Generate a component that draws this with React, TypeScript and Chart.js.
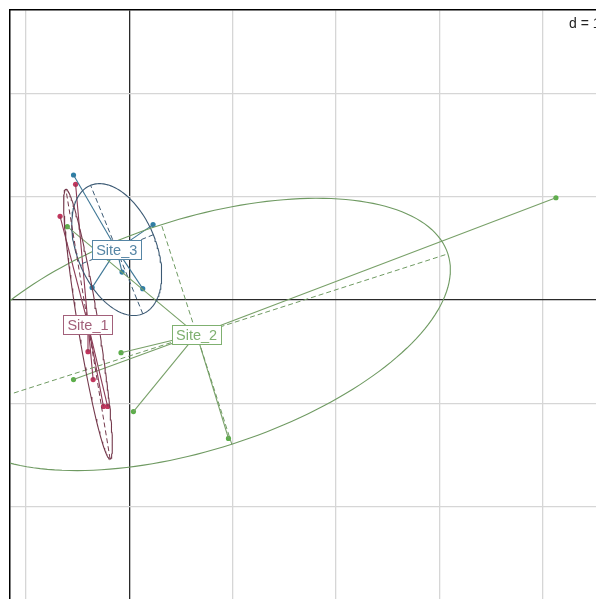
import React, { useEffect, useRef } from 'react';
import { Chart, registerables } from 'chart.js';

Chart.register(...registerables);

// ---- data (factorial coordinates, grid step d = 1) ----
const groupNames = ['Site_1', 'Site_2', 'Site_3'];
const site1X = [-0.52, -0.67, -0.4, -0.35, -0.25, -0.21];
const site1Y = [1.12, 0.81, -0.5, -0.77, -1.03, -1.03];
const site2X = [4.13, -0.08, -0.54, 0.04, 0.96, -0.6];
const site2Y = [0.99, -0.51, -0.77, -1.08, -1.34, 0.71];
const site3X = [-0.54, 0.23, -0.07, 0.13, -0.36];
const site3Y = [1.21, 0.73, 0.27, 0.11, 0.12];
const gridLabel = 'd = 1';

const pointColors = ['#c2375e', '#5cae4a', '#2f7fa6'];
const lineColors = ['#74394c', '#6f9a62', '#3c5a74'];
const starColors = ['#8a3a55', '#78a068', '#3f7796'];
const labelColors = ['#a2607a', '#7fb070', '#5585a5'];

// pixel position of the origin and size of one grid unit
const ORIGIN_PX = { x: 129.3, y: 300 };
const UNIT_PX = 103.3;
const CELLIPSE = 1.5;

type Pt = { x: number; y: number };

function groupStats(xs: number[], ys: number[]) {
  const n = xs.length;
  const mx = xs.reduce((a, b) => a + b, 0) / n;
  const my = ys.reduce((a, b) => a + b, 0) / n;
  let vx = 0, vy = 0, cxy = 0;
  for (let i = 0; i < n; i++) {
    vx += (xs[i] - mx) ** 2 / n;
    vy += (ys[i] - my) ** 2 / n;
    cxy += ((xs[i] - mx) * (ys[i] - my)) / n;
  }
  const tr = vx + vy;
  const det = vx * vy - cxy * cxy;
  const disc = Math.sqrt(Math.max(tr * tr / 4 - det, 0));
  const l1 = tr / 2 + disc;
  const l2 = Math.max(tr / 2 - disc, 0);
  let ux = 1, uy = 0;
  if (Math.abs(cxy) > 1e-12) {
    ux = cxy;
    uy = l1 - vx;
  } else if (vy > vx) {
    ux = 0;
    uy = 1;
  }
  const len = Math.hypot(ux, uy);
  ux /= len;
  uy /= len;
  const a = CELLIPSE * Math.sqrt(l1);
  const b = CELLIPSE * Math.sqrt(l2);
  const ellipse: Pt[] = [];
  const N = 180;
  for (let k = 0; k <= N; k++) {
    const t = (2 * Math.PI * k) / N;
    ellipse.push({
      x: mx + a * Math.cos(t) * ux - b * Math.sin(t) * uy,
      y: my + a * Math.cos(t) * uy + b * Math.sin(t) * ux,
    });
  }
  const major: Pt[] = [
    { x: mx - a * ux, y: my - a * uy },
    { x: mx + a * ux, y: my + a * uy },
  ];
  const minor: Pt[] = [
    { x: mx + b * uy, y: my - b * ux },
    { x: mx - b * uy, y: my + b * ux },
  ];
  return { mx, my, ellipse, major, minor };
}

export default function App() {
  const ref = useRef<HTMLCanvasElement | null>(null);

  useEffect(() => {
    if (!ref.current) return;
    const groupsX = [site1X, site2X, site3X];
    const groupsY = [site1Y, site2Y, site3Y];
    const stats = groupsX.map((xs, g) => groupStats(xs, groupsY[g]));

    const datasets: any[] = [];
    const lineDs = (data: Pt[], color: string, dash: number[] = [], width = 1) => ({
      type: 'scatter',
      data,
      showLine: true,
      borderColor: color,
      borderWidth: width,
      borderDash: dash,
      pointRadius: 0,
      pointHoverRadius: 0,
      fill: false,
      tension: 0,
    });

    // ellipses and axes
    stats.forEach((s, g) => {
      datasets.push(lineDs(s.ellipse, lineColors[g], [], 1.1));
      datasets.push(lineDs(s.major, lineColors[g], [5, 3], 1));
      datasets.push(lineDs(s.minor, lineColors[g], [5, 3], 1));
    });
    // stars
    stats.forEach((s, g) => {
      groupsX[g].forEach((x, i) => {
        datasets.push(
          lineDs([{ x: s.mx, y: s.my }, { x, y: groupsY[g][i] }], starColors[g], [], 1.1)
        );
      });
    });
    // points
    groupsX.forEach((xs, g) => {
      datasets.push({
        type: 'scatter',
        data: xs.map((x, i) => ({ x, y: groupsY[g][i] })),
        pointRadius: 2.6,
        pointBackgroundColor: pointColors[g],
        pointBorderWidth: 0,
        showLine: false,
      });
    });

    const labelPlugin = {
      id: 'classLabels',
      afterDatasetsDraw(chart: any) {
        const { ctx, scales } = chart;
        ctx.save();
        ctx.font = '14.5px "Liberation Sans", Arial, sans-serif';
        ctx.textAlign = 'center';
        ctx.textBaseline = 'middle';
        stats.forEach((s, g) => {
          const px = scales.x.getPixelForValue(s.mx);
          const py = scales.y.getPixelForValue(s.my);
          const w = Math.round(ctx.measureText(groupNames[g]).width + 8);
          const h = 19;
          const left = Math.round(px - w / 2);
          const top = Math.round(py - h / 2);
          ctx.fillStyle = '#ffffff';
          ctx.fillRect(left, top, w, h);
          ctx.strokeStyle = labelColors[g];
          ctx.lineWidth = 1;
          ctx.strokeRect(left + 0.5, top + 0.5, w, h);
          ctx.fillStyle = labelColors[g];
          ctx.fillText(groupNames[g], px, py + 1.5);
        });
        // grid step label
        ctx.font = '14px "Liberation Sans", Arial, sans-serif';
        ctx.textAlign = 'left';
        ctx.textBaseline = 'alphabetic';
        const tw = ctx.measureText(gridLabel).width;
        ctx.fillStyle = '#ffffff';
        ctx.fillRect(565, 14, tw + 8, 18);
        ctx.fillStyle = '#222222';
        ctx.fillText(gridLabel, 569, 28);
        ctx.restore();
      },
    };

    const gridColor = (c: any) => (c.tick && c.tick.value === 0 ? '#2a2a2a' : '#d6d6d6');

    const chart = new Chart(ref.current, {
      type: 'scatter',
      data: { datasets },
      options: {
        animation: false,
        responsive: false,
        events: [],
        layout: { padding: { left: 10, top: 10, right: 0, bottom: 0 } },
        plugins: { legend: { display: false }, tooltip: { enabled: false } },
        scales: {
          x: {
            type: 'linear',
            position: 'top',
            min: -1.15,
            max: 4.5,
            ticks: { display: false, stepSize: 1, includeBounds: false },
            grid: { color: gridColor, lineWidth: 1.3, drawTicks: false, tickLength: 0 },
            border: { display: true, color: '#000000', width: 1.5 },
          },
          y: {
            type: 'linear',
            position: 'left',
            min: -2.9,
            max: 2.8,
            ticks: { display: false, stepSize: 1, includeBounds: false },
            grid: { color: gridColor, lineWidth: 1.3, drawTicks: false, tickLength: 0 },
            border: { display: true, color: '#000000', width: 1.5 },
          },
        },
      } as any,
      plugins: [labelPlugin],
    });
    // fit the scale ranges to the measured chart area so that one unit = UNIT_PX
    const area = chart.chartArea;
    const o: any = chart.options.scales;
    o.x.min = (area.left - ORIGIN_PX.x) / UNIT_PX;
    o.x.max = (area.right - ORIGIN_PX.x) / UNIT_PX;
    o.y.max = (ORIGIN_PX.y - area.top) / UNIT_PX;
    o.y.min = (ORIGIN_PX.y - area.bottom) / UNIT_PX;
    chart.update('none');
    return () => chart.destroy();
  }, []);

  return (
    <div
      style={{
        position: 'fixed',
        left: 0,
        top: 0,
        width: 596,
        height: 599,
        overflow: 'hidden',
        background: '#fff',
      }}
    >
      <canvas ref={ref} width={612} height={615} style={{ display: 'block' }} />
    </div>
  );
}
